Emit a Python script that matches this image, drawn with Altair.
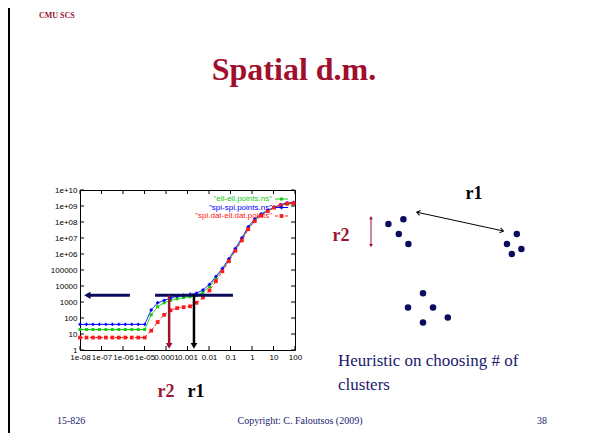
import json
import altair as alt
import pandas as pd

# ---------------- data ----------------
series_names = ['"ell-ell.points.ns"', '"spi-spi.points.ns"', '"spi.dat-ell.dat.points"']
series_colors = ["#11cc11", "#0000ff", "#ff1a1a"]

radius = [1e-8, 2e-8, 4e-8, 8e-8, 1.6e-7, 3.2e-7, 6.4e-7, 1.28e-6, 2.56e-6, 5.12e-6,
          1.02e-5, 2.05e-5, 4.1e-5, 8.2e-5, 1.64e-4, 3.28e-4, 6.55e-4, 1.31e-3, 2.62e-3,
          5.24e-3, 1.05e-2, 2.1e-2, 4.19e-2, 8.39e-2, 0.168, 0.336, 0.671, 1.34, 2.68,
          5.37, 10.7, 21.5, 42.9, 85.9]
ell_ell = [19, 19, 19, 19, 19, 19, 19, 19, 19, 19, 19,
           158, 501, 891, 1260, 1590, 1910, 2140, 2510, 3980, 8910, 31600, 100000,
           398000, 1780000, 7940000, 3.98e7, 1.26e8, 2.82e8, 5.01e8, 7.94e8, 1.12e9,
           1.32e9, 1.35e9]
spi_spi = [40, 40, 40, 40, 40, 40, 40, 40, 40, 40, 40,
           316, 891, 1260, 1780, 2240, 2630, 3020, 3550, 5620, 12600, 39800, 126000,
           501000, 2240000, 1.0e7, 5.01e7, 1.58e8, 3.16e8, 5.25e8, 8.32e8, 1.2e9,
           1.58e9, 1.66e9]
spi_ell = [6, 6, 6, 6, 6, 6, 6, 6, 6, 6, 6,
           16, 56, 158, 302, 417, 479, 537, 891, 1910, 5250, 20000, 83200,
           355000, 1580000, 7080000, 3.55e7, 1.12e8, 2.51e8, 4.79e8, 7.94e8, 1.12e9,
           1.41e9, 1.51e9]

x_tick_labels = ["1e-08", "1e-07", "1e-06", "1e-05", "0.0001", "0.001", "0.01", "0.1", "1", "10", "100"]
y_tick_labels = ["1", "10", "100", "1000", "10000", "100000", "1e+06", "1e+07", "1e+08", "1e+09", "1e+10"]

# annotation lines on the plot (data coordinates)
level_y = 2600
level_x = [3.1e-5, 0.13]
left_arrow_x = [2.1e-6, 2.2e-8]
r2_x = 1.4e-4
r1_x = 2.0e-3
arrow_bottom_y = 1.8

# cluster sketch (diagram units)
dots_x = [29.2, 36.7, 34.4, 39.2, 93.4, 88.5, 95.7, 90.9, 46.5, 39.0, 51.5, 58.9, 46.5]
dots_y = [53.0, 55.4, 48.0, 43.0, 48.0, 43.0, 40.5, 38.0, 18.4, 11.2, 11.2, 6.2, 3.7]
r1_arrow = {"x": 43.4, "y": 58.9, "x2": 86.7, "y2": 49.5}
r2_arrow = {"x": 20.5, "y": 56.2, "y2": 42.2}

# ---------------- styles ----------------
W, H = 215, 160
NAVY = "#0b0b5e"
DARKRED = "#9b1530"
SERIF = "Liberation Serif"
SANS = "Liberation Sans"

rows = []
for name, vals in zip(series_names, [ell_ell, spi_spi, spi_ell]):
    for xv, yv in zip(radius, vals):
        rows.append({"series": name, "r": xv, "pairs": yv})
df = pd.DataFrame(rows)

xscale = alt.Scale(type="log", domain=[1e-8, 100], nice=False)
yscale = alt.Scale(type="log", domain=[1, 1e10], nice=False)
x_ticks = [float(s) for s in x_tick_labels]
y_ticks = [float(s) for s in y_tick_labels]

xaxis = alt.Axis(values=x_ticks, labelExpr=json.dumps(x_tick_labels).replace('"', "'") + "[round(log(datum.value)/LN10)+8]",
                 domain=False, ticks=False, grid=False, labelFontSize=8, labelFont=SANS,
                 labelColor="black", labelPadding=3, labelOverlap=False, labelFlush=False, title=None)
yaxis = alt.Axis(values=y_ticks, labelExpr=json.dumps(y_tick_labels).replace('"', "'") + "[round(log(datum.value)/LN10)]",
                 domain=False, ticks=False, grid=False, labelFontSize=8, labelFont=SANS,
                 labelColor="black", labelPadding=3, labelOverlap=False, labelFlush=False, title=None)

color = alt.Color("series:N", scale=alt.Scale(domain=series_names, range=series_colors), legend=None)
base = alt.Chart(df).encode(x=alt.X("r:Q", scale=xscale, axis=xaxis),
                            y=alt.Y("pairs:Q", scale=yscale, axis=yaxis), color=color)
lines = base.mark_line(strokeWidth=1).encode(
    strokeDash=alt.StrokeDash("series:N", scale=alt.Scale(domain=series_names, range=[[1, 0], [1, 0], [3, 2]]), legend=None),
    detail="series:N")
points = base.mark_point(filled=True, opacity=1).encode(
    shape=alt.Shape("series:N", scale=alt.Scale(domain=series_names, range=["square", "cross", "square"]), legend=None),
    size=alt.Size("series:N", scale=alt.Scale(domain=series_names, range=[9, 14, 16]), legend=None))

# inward gnuplot-style ticks
xt = pd.DataFrame({"r": x_ticks})
yt = pd.DataFrame({"pairs": y_ticks})
tick_layers = [
    alt.Chart(xt).mark_rule(color="black", strokeWidth=1).encode(x=alt.X("r:Q", scale=xscale), y=alt.value(H), y2=alt.value(H - 4)),
    alt.Chart(xt).mark_rule(color="black", strokeWidth=1).encode(x=alt.X("r:Q", scale=xscale), y=alt.value(0), y2=alt.value(4)),
    alt.Chart(yt).mark_rule(color="black", strokeWidth=1).encode(y=alt.Y("pairs:Q", scale=yscale), x=alt.value(0), x2=alt.value(4)),
    alt.Chart(yt).mark_rule(color="black", strokeWidth=1).encode(y=alt.Y("pairs:Q", scale=yscale), x=alt.value(W), x2=alt.value(W - 4)),
]

# annotation arrows on the plot
seg = pd.DataFrame({"x1": [level_x[0], left_arrow_x[0]], "x2": [level_x[1], left_arrow_x[1]], "y": [level_y, level_y]})
hbars = alt.Chart(seg).mark_rule(color=NAVY, strokeWidth=3).encode(
    x=alt.X("x1:Q", scale=xscale), x2="x2:Q", y=alt.Y("y:Q", scale=yscale))
lhead = alt.Chart(pd.DataFrame({"x": [left_arrow_x[1]], "y": [level_y]})).mark_point(
    shape="triangle-left", filled=True, color=NAVY, size=55, opacity=1).encode(
    x=alt.X("x:Q", scale=xscale), y=alt.Y("y:Q", scale=yscale))

arrow_layers = []
for xv, col in [(r2_x, DARKRED), (r1_x, "black")]:
    vdf = pd.DataFrame({"x": [xv], "y1": [level_y], "y2": [arrow_bottom_y]})
    arrow_layers.append(alt.Chart(vdf).mark_rule(strokeWidth=2.5, color=col).encode(
        x=alt.X("x:Q", scale=xscale), y=alt.Y("y1:Q", scale=yscale), y2="y2:Q"))
    arrow_layers.append(alt.Chart(vdf).mark_point(shape="triangle-down", filled=True, size=45, opacity=1, color=col).encode(
        x=alt.X("x:Q", scale=xscale), y=alt.Y("y2:Q", scale=yscale)))

# gnuplot key (inside top right)
key_layers = []
for i, (name, col) in enumerate(zip(series_names, series_colors)):
    yy = 9 + i * 8.5
    key_layers.append(alt.Chart(pd.DataFrame({"t": [name]})).mark_text(
        align="right", baseline="middle", fontSize=8, font=SANS, color=col).encode(
        text="t:N", x=alt.value(192), y=alt.value(yy)))
    key_layers.append(alt.Chart(pd.DataFrame({"t": [name]})).mark_rule(
        color=col, strokeWidth=1, strokeDash=[3, 2] if i == 2 else [1, 0]).encode(
        x=alt.value(195), x2=alt.value(208), y=alt.value(yy)))
    key_layers.append(alt.Chart(pd.DataFrame({"t": [name]})).mark_point(
        shape="cross" if i == 1 else "square", filled=True, color=col, size=14 if i else 9, opacity=1).encode(
        x=alt.value(201.5), y=alt.value(yy)))

plot = alt.layer(lines, points, *tick_layers, hbars, lhead, *arrow_layers, *key_layers)

# ---------------- cluster sketch ----------------
dx = alt.Scale(domain=[0, 100], range=[250, 450], nice=False, zero=False)
dy = alt.Scale(domain=[0, 70], range=[140, 0], nice=False, zero=False)
dots = alt.Chart(pd.DataFrame({"dx": dots_x, "dy": dots_y})).mark_circle(
    color=NAVY, size=42, opacity=1).encode(
    x=alt.X("dx:Q", scale=dx, axis=None), y=alt.Y("dy:Q", scale=dy, axis=None))
r1df = pd.DataFrame([r1_arrow])
r1line = alt.Chart(r1df).mark_rule(color="black", strokeWidth=1).encode(
    x=alt.X("x:Q", scale=dx, axis=None), y=alt.Y("y:Q", scale=dy, axis=None), x2="x2:Q", y2="y2:Q")
chev = "M -1 -0.75 L 0 0 L -1 0.75"
r1h1 = alt.Chart(r1df).mark_point(shape=chev, filled=False, color="black", strokeWidth=1, size=45,
                                  angle=12.2, opacity=1).encode(
    x=alt.X("x2:Q", scale=dx, axis=None), y=alt.Y("y2:Q", scale=dy, axis=None))
r1h2 = alt.Chart(r1df).mark_point(shape=chev, filled=False, color="black", strokeWidth=1, size=45,
                                  angle=192.2, opacity=1).encode(
    x=alt.X("x:Q", scale=dx, axis=None), y=alt.Y("y:Q", scale=dy, axis=None))
r2df = pd.DataFrame([r2_arrow])
r2line = alt.Chart(r2df).mark_rule(color=DARKRED, strokeWidth=1).encode(
    x=alt.X("x:Q", scale=dx, axis=None), y=alt.Y("y:Q", scale=dy, axis=None), y2="y2:Q")
r2h1 = alt.Chart(r2df).mark_point(shape="triangle-up", filled=True, color=DARKRED, size=14, opacity=1).encode(
    x=alt.X("x:Q", scale=dx, axis=None), y=alt.Y("y:Q", scale=dy, axis=None))
r2h2 = alt.Chart(r2df).mark_point(shape="triangle-down", filled=True, color=DARKRED, size=14, opacity=1).encode(
    x=alt.X("x:Q", scale=dx, axis=None), y=alt.Y("y2:Q", scale=dy, axis=None))
sketch = alt.layer(dots, r1line, r1h1, r1h2, r2line, r2h1, r2h2)


# ---------------- slide texts ----------------
def txt(s, x, y, size, color, bold=False, align="left", baseline="alphabetic", font=SERIF):
    return alt.Chart(pd.DataFrame({"t": [s]})).mark_text(
        align=align, baseline=baseline, fontSize=size, font=font, color=color,
        fontWeight="bold" if bold else "normal").encode(text="t:N", x=alt.value(x), y=alt.value(y))


texts = alt.layer(
    txt("CMU SCS", -41, -172, 8, DARKRED, bold=True),
    txt("Spatial d.m.", 214, -110, 32, "#a00f2d", bold=True, align="center"),
    txt("r2", 86, 207, 18, DARKRED, bold=True, align="center"),
    txt("r1", 116, 207, 18, "black", bold=True, align="center"),
    txt("r1", 394, 4, 18, "black", bold=True, align="center", baseline="middle"),
    txt("r2", 261, 46, 18, DARKRED, bold=True, align="center", baseline="middle"),
    txt("Heuristic on choosing # of", 258, 176, 17, "#1a1a6e"),
    txt("clusters", 258, 200, 17, "#1a1a6e"),
    txt("15-826", -23, 234, 10, "#1a1a6e"),
    txt("Copyright: C. Faloutsos (2009)", 220, 234, 10, "#1a1a6e", align="center"),
    txt("38", 467, 234, 10, "#1a1a6e", align="right"),
    alt.Chart(pd.DataFrame({"t": [0]})).mark_rule(color="black", strokeWidth=2).encode(
        x=alt.value(-71), y=alt.value(-182), y2=alt.value(243)),
)

chart = alt.layer(plot, sketch, texts).resolve_scale(x="independent", y="independent").properties(
    width=W, height=H,
    autosize=alt.AutoSizeParams(type="none"),
    padding={"left": 72, "top": 182, "right": 289, "bottom": 83},
).configure_view(stroke="black", strokeWidth=1)

chart.save("out.html", embed_options={"renderer": "svg", "actions": False})
